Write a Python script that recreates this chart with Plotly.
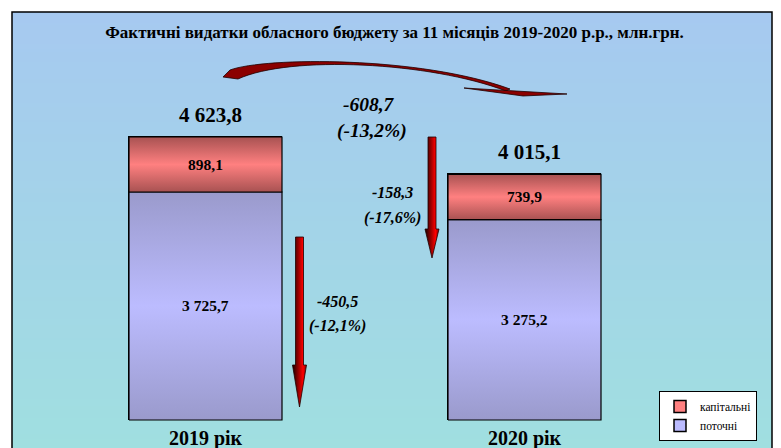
import base64, struct, zlib
import plotly.graph_objects as go

# ---------------- data ----------------
categories = ["2019 рік", "2020 рік"]
current_vals = [3725.7, 3275.2]   # поточні
capital_vals = [898.1, 739.9]     # капітальні
series_names = ["поточні", "капітальні"]
total_vals = [c + k for c, k in zip(current_vals, capital_vals)]
change_total = ["-608,7", "(-13,2%)"]
change_capital = ["-158,3", "(-17,6%)"]
change_current = ["-450,5", "(-12,1%)"]
title_text = "Фактичні видатки обласного бюджету за 11 місяців 2019-2020 р.р., млн.грн."

# ---------------- page geometry (page pixels) ----------------
PAGE_W, PAGE_H = 781, 448
OFF = 8                                # default body margin of the html page
W, H = PAGE_W - OFF, PAGE_H - OFF      # figure size
L, R, T, B = 12, 772, 12, 448          # plot area in page pixels
X0_PX, X_STEP = 205.5, 319.0           # first bar centre and bar spacing
Y0_PX, Y_SCALE = 420.0, 0.0612         # zero line and px per unit
BAR_W = 153 / X_STEP

xr = [(L - X0_PX) / X_STEP, (R - X0_PX) / X_STEP]
yr = [(Y0_PX - B) / Y_SCALE, (Y0_PX - T) / Y_SCALE]

def pp(x, y):
    return (x - L) / (R - L), (B - y) / (B - T)

def pd(x, y):
    return (x - X0_PX) / X_STEP, (Y0_PX - y) / Y_SCALE

def path_px(cmds):
    out = []
    for c in cmds:
        if isinstance(c, str):
            out.append(c)
        else:
            x, y = pp(*c)
            out.append(f"{x:.5f},{y:.5f}")
    return " ".join(out)

def fmt(v):
    return f"{v:,.1f}".replace(",", " ").replace(".", ",")

SERIF = "Liberation Serif"

# background gradient png
def make_png(rows):
    raw = b"".join(b"\x00" + bytes(c) for c in rows)
    def chunk(t, d):
        return struct.pack(">I", len(d)) + t + d + struct.pack(">I", zlib.crc32(t + d) & 0xffffffff)
    ihdr = struct.pack(">IIBBBBB", 1, len(rows), 8, 2, 0, 0, 0)
    return b"\x89PNG\r\n\x1a\n" + chunk(b"IHDR", ihdr) + chunk(b"IDAT", zlib.compress(raw)) + chunk(b"IEND", b"")

top_c, bot_c = (166, 201, 240), (160, 223, 224)
n = 256
rows = [tuple(round(top_c[k] + (bot_c[k] - top_c[k]) * i / (n - 1)) for k in range(3)) for i in range(n)]
bg_uri = "data:image/png;base64," + base64.b64encode(make_png(rows)).decode()

fig = go.Figure()
xs = list(range(len(categories)))

fig.add_trace(go.Bar(x=xs, y=current_vals, name=series_names[0], width=BAR_W,
                     marker=dict(color="#bbbbff", line=dict(color="black", width=1.5)),
                     hoverinfo="skip"))
fig.add_trace(go.Bar(x=xs, y=capital_vals, name=series_names[1], width=BAR_W,
                     marker=dict(color="#ff8080", line=dict(color="black", width=1.5)),
                     hoverinfo="skip"))

# gradient overlays on the bars
for i in xs:
    segs = [(0, current_vals[i], [[0, "#9a9acc"], [0.5, "#bcbcff"], [1, "#9a9acc"]]),
            (current_vals[i], current_vals[i] + capital_vals[i],
             [[0, "#a85252"], [0.5, "#ff8080"], [1, "#a85252"]])]
    for lo, hi, cs in segs:
        fig.add_trace(go.Scatter(
            x=[i - BAR_W / 2, i + BAR_W / 2, i + BAR_W / 2, i - BAR_W / 2, i - BAR_W / 2],
            y=[lo, lo, hi, hi, lo], mode="lines", fill="toself",
            fillgradient=dict(type="vertical", colorscale=cs),
            line=dict(color="black", width=1.2), showlegend=False, hoverinfo="skip"))

# decorative vertical block arrows (horizontal shading dark -> red)
def varrow(cx, y0, yh, ytip, sw=4, hw=7):
    pts = [(cx - sw, y0), (cx + sw, y0), (cx + sw, yh), (cx + hw, yh), (cx, ytip),
           (cx - hw, yh), (cx - sw, yh), (cx - sw, y0)]
    d = [pd(*p) for p in pts]
    fig.add_trace(go.Scatter(
        x=[p[0] for p in d], y=[p[1] for p in d], mode="lines", fill="toself",
        fillgradient=dict(type="horizontal",
                          colorscale=[[0, "#1a0000"], [0.45, "#a00000"], [0.75, "#ff0000"], [1, "#8a0000"]]),
        line=dict(color="#200000", width=0.8), showlegend=False, hoverinfo="skip"))

varrow(299.5, 237, 365, 407)
varrow(432, 137, 229, 258)

ann = []
for i in xs:
    ann.append(dict(x=i, y=current_vals[i] / 2, text=f"<b>{fmt(current_vals[i])}</b>",
                    showarrow=False, font=dict(family=SERIF, size=15.5, color="black")))
    ann.append(dict(x=i, y=current_vals[i] + capital_vals[i] / 2, text=f"<b>{fmt(capital_vals[i])}</b>",
                    showarrow=False, font=dict(family=SERIF, size=15.5, color="black")))
    ann.append(dict(x=i, y=total_vals[i], yanchor="bottom", yshift=8, xshift=5,
                    text=f"<b>{fmt(total_vals[i])}</b>",
                    showarrow=False, font=dict(family=SERIF, size=21, color="black")))

def txt(px, py, s, size):
    x, y = pp(px, py)
    ann.append(dict(xref="paper", yref="paper", x=x, y=y, text=f"<b><i>{s}</i></b>",
                    showarrow=False, font=dict(family=SERIF, size=size, color="black")))

txt(369, 92, change_total[0], 19.5)
txt(372, 118, change_total[1], 19.5)
txt(392, 192, change_capital[0], 16)
txt(392, 218, change_capital[1], 16)
txt(337, 312, change_current[0], 16)
txt(337, 337, change_current[1], 16)

shapes = []
# frame
shapes.append(dict(type="rect", xref="paper", yref="paper", x0=0, x1=1, y0=-0.01, y1=1,
                   line=dict(color="black", width=1.5), fillcolor="rgba(0,0,0,0)", layer="above"))

curve = path_px(["M", (223, 77), "L", (230, 70), "C", (265, 57), (420, 56), (510, 89),
                 "L", (506, 91), "C", (430, 62), (290, 55), (238, 79), "Z"])
head = path_px(["M", (464, 88), "L", (567, 94), "L", (523, 96), "Z"])
for pth in [curve, head]:
    shapes.append(dict(type="path", xref="paper", yref="paper", path=pth,
                       fillcolor="#8b0000", line=dict(color="#200000", width=0.8)))

fig.update_layout(
    width=W, height=H,
    margin=dict(l=L - OFF, r=PAGE_W - R, t=T - OFF, b=PAGE_H - B, pad=0),
    paper_bgcolor="white", plot_bgcolor="rgba(0,0,0,0)",
    barmode="stack", bargap=0,
    title=dict(text=f"<b>{title_text}</b>", x=0.5, xanchor="center", y=1 - (32 - OFF) / H,
               yanchor="middle", font=dict(family=SERIF, size=17, color="black")),
    xaxis=dict(range=xr, tickvals=xs, ticktext=[f"<b>{c}</b>" for c in categories],
               tickfont=dict(family=SERIF, size=20, color="black"), showgrid=False, zeroline=False,
               showline=False, ticks="", anchor="free", position=(B - Y0_PX) / (B - T),
               ticklabelstandoff=4, automargin=False, fixedrange=True),
    yaxis=dict(range=yr, visible=False, showgrid=False, zeroline=False, fixedrange=True),
    legend=dict(x=(757 - L) / (R - L), y=(B - 391) / (B - T), xanchor="right", yanchor="top",
                bgcolor="white", bordercolor="black", borderwidth=1, traceorder="reversed",
                itemwidth=30, font=dict(family=SERIF, size=11.5, color="black")),
    images=[dict(source=bg_uri, xref="paper", yref="paper", x=0, y=1, sizex=1, sizey=1,
                 sizing="stretch", layer="below", xanchor="left", yanchor="top")],
    annotations=ann, shapes=shapes, showlegend=True,
)

fig.write_html("out.html")
